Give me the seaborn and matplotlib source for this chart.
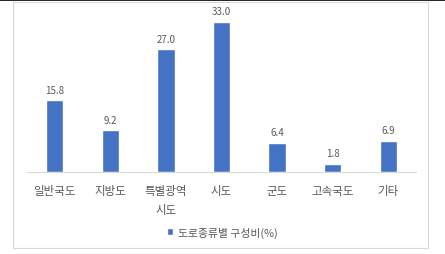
import matplotlib
matplotlib.use("Agg")
import matplotlib.pyplot as plt
import seaborn as sns
import pandas as pd
from matplotlib.patches import Rectangle, Patch
from matplotlib.lines import Line2D

categories = ["일반국도", "지방도", "특별광역\n시도", "시도", "군도", "고속국도", "기타"]
values = [15.8, 9.2, 27.0, 33.0, 6.4, 1.8, 6.9]
series_name = "도로종류별 구성비(%)"

sns.set_theme(style="white")
plt.rcParams['font.family'] = ['Noto Sans CJK KR', 'DejaVu Sans']

df = pd.DataFrame({"cat": categories, "val": values, "series": series_name})

fig = plt.figure(figsize=(4.45, 2.55), dpi=100)
fig.patch.set_facecolor("white")
ax = fig.add_axes([27/445, 1-173/255, (416-27)/445, (173-13.8)/255])

sns.barplot(data=df, x="cat", y="val", color="#4472C4", width=0.31, ax=ax,
            saturation=1, legend=False)

ax.set_ylim(0, 35)
ax.set_xlim(-0.5, len(categories)-0.5)
for c in ax.containers:
    ax.bar_label(c, labels=[f"{v:.1f}" for v in values], padding=4,
                 fontsize=7, color="#595959")

ax.set_xlabel("")
ax.set_ylabel("")
ax.set_yticks([])
ax.tick_params(axis="x", labelsize=8.3, colors="#595959", length=0, pad=9)
for lab in ax.get_xticklabels():
    lab.set_linespacing(1.55)
for s in ["top", "left", "right"]:
    ax.spines[s].set_visible(False)
ax.spines["bottom"].set_color("#D9D9D9")
ax.spines["bottom"].set_linewidth(0.8)

fig.legend(handles=[Patch(facecolor="#4472C4", label=series_name)],
           loc="center", bbox_to_anchor=(222/445, 1-233/255), frameon=False,
           fontsize=7.8, labelcolor="#595959", handlelength=0.6, handleheight=0.6,
           handletextpad=0.4)

fig.add_artist(Rectangle((13/445, 1-249/255), (428-13)/445, (249-3)/255,
                         transform=fig.transFigure, fill=False,
                         edgecolor="#D9D9D9", linewidth=0.8))
fig.add_artist(Line2D([0, 1], [1-0.8/255, 1-0.8/255], transform=fig.transFigure,
                      color="black", linewidth=1.2))

fig.savefig("out.png", dpi=100)
